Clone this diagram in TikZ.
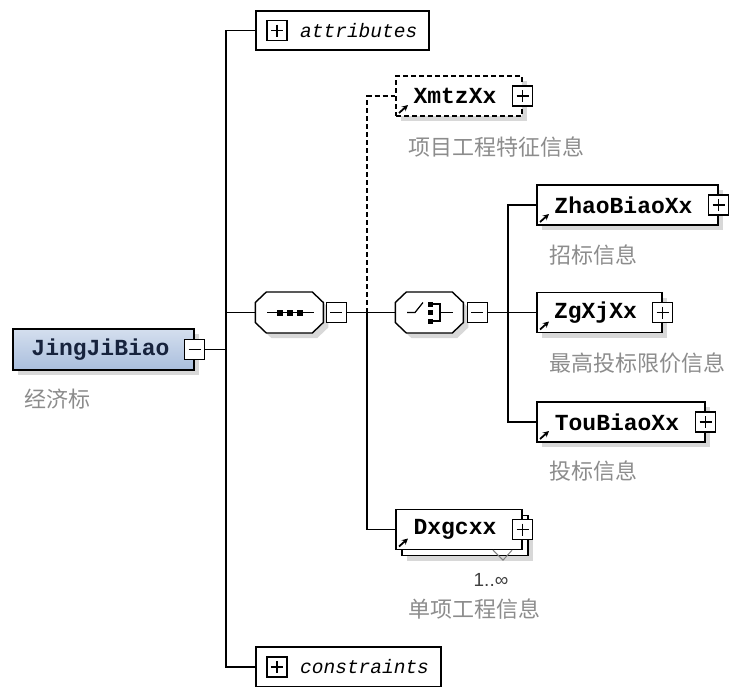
\documentclass[tikz,border=0pt]{standalone}
\usepackage{fontspec}
\newfontfamily\namefont{Liberation Mono}
\newfontfamily\cjkfont{Noto Sans CJK SC}
\newfontfamily\numfont{Liberation Sans}
\usetikzlibrary{shadows,arrows.meta}
\definecolor{lblgrey}{HTML}{8C8C8C}
\definecolor{rootblue}{HTML}{A9BEDD}
\definecolor{rootink}{HTML}{17233D}

\begin{document}
\begin{tikzpicture}[x=1pt, y=-1pt, line width=1.4pt,
		shd/.style={drop shadow={shadow xshift=5pt, shadow yshift=-5pt, fill=black!30}},
		pm/.style={draw, fill=white, minimum width=20, minimum height=20, inner sep=0, line width=1.2pt},
		plus/.style={pm, path picture={\draw ([xshift=4pt]path picture bounding box.west) -- ([xshift=-4pt]path picture bounding box.east); \draw ([yshift=-4pt]path picture bounding box.north) -- ([yshift=4pt]path picture bounding box.south);}},
		minus/.style={pm, path picture={\draw ([xshift=4pt]path picture bounding box.west) -- ([xshift=-4pt]path picture bounding box.east);}},
		elem/.style={draw, fill=white, minimum height=40, inner sep=0, font=\namefont\bfseries\fontsize{23}{23}\selectfont, execute at end node=\hspace*{8pt},
			path picture={\draw[solid, line width=1.8pt, -{Stealth[length=6pt, width=6pt]}] ([shift={(3pt,3pt)}]path picture bounding box.south west) -- ++(9pt,8pt);}},
		grp/.style={draw, fill=white, minimum height=40, inner sep=0},
		grptxt/.style={inner sep=0, anchor=west, font=\namefont\itshape\fontsize{19.5}{20}\selectfont},
		comp/.style={minimum width=68, minimum height=41, inner sep=0},
		lbl/.style={inner sep=0, anchor=west, text=lblgrey, font=\cjkfont\fontsize{22}{22}\selectfont}]
		\useasboundingbox (0,0) rectangle (739,686);
		\node (elemRoot) [draw, shd, minimum width=181, minimum height=41, inner sep=0, top color=rootblue!50, bottom color=rootblue, text=rootink, font=\namefont\bfseries\fontsize{23}{23}\selectfont, execute at end node=\hspace*{6pt}] at (103.5,349.5) {JingJiBiao};
		\node (minusRoot) [minus] at (elemRoot.east) {};
		\node (lblRoot) [lbl] at ([shift={(11,28)}]elemRoot.south west) {经济标};
		\node (attr) [grp, minimum width=173, minimum height=39] at (342.5,30.5) {};
		\node (plusAttr) [plus, anchor=west] at ([xshift=11]attr.west) {};
		\node (txtAttr) [grptxt] at ([xshift=12]plusAttr.east) {attributes};
		\node (cons) [grp, minimum width=185] at (348.5,667) {};
		\node (plusCons) [plus, anchor=west] at ([xshift=11]cons.west) {};
		\node (txtCons) [grptxt] at ([xshift=12]plusCons.east) {constraints};
		\node (seq) [comp] at (290,312.5) {};
		\node (choice) [comp] at (430,312.5) {};
		\foreach \c in {seq,choice}
			\draw[fill=white, shd] (\c.west) ++(0,-10) -- ++(11,-10.5) -- ++(46,0) -- ++(11,10.5) -- ++(0,20) -- ++(-11,10.5) -- ++(-46,0) -- ++(-11,-10.5) -- cycle;
		\node (minusSeq) [minus, anchor=west] at ([xshift=1]seq.east) {};
		\node (minusChoice) [minus, anchor=west] at ([xshift=2]choice.east) {};
		\node (elemXmtz) [elem, shd, dash pattern=on 5pt off 3pt, minimum width=126] at (459,96) {XmtzXx};
		\node (plusXmtz) [plus] at (elemXmtz.east) {};
		\node (lblXmtz) [lbl] at ([shift={(12,30)}]elemXmtz.south west) {项目工程特征信息};
		\node (elemZhao) [elem, shd, minimum width=181] at (627.5,205) {ZhaoBiaoXx};
		\node (plusZhao) [plus] at (elemZhao.east) {};
		\node (lblZhao) [lbl] at ([shift={(12,29)}]elemZhao.south west) {招标信息};
		\node (elemZgXj) [elem, shd, minimum width=125] at (599.5,312.5) {ZgXjXx};
		\node (plusZgXj) [plus] at (elemZgXj.east) {};
		\node (lblZgXj) [lbl] at ([shift={(12,30)}]elemZgXj.south west) {最高投标限价信息};
		\node (elemTou) [elem, shd, minimum width=168] at (621,422) {TouBiaoXx};
		\node (plusTou) [plus] at (elemTou.east) {};
		\node (lblTou) [lbl] at ([shift={(12,28)}]elemTou.south west) {投标信息};
		\node (elemDxgcBack) [draw, fill=white, shd, minimum width=126, minimum height=40] at (465,535.5) {};
		\node (elemDxgc) [elem, minimum width=126] at (459,529.5) {Dxgcxx};
		\node (plusDxgc) [plus] at (elemDxgc.east) {};
		\draw[gray, line width=1pt] ([xshift=34]elemDxgc.south) -- ++(10,10) -- ++(9,-10);
		\node (multDxgc) [inner sep=0, text=black!75, font=\numfont\fontsize{19}{19}\selectfont] at (491,580) {1..∞};
		\node (lblDxgc) [lbl] at ([shift={(12,58.5)}]elemDxgc.south west) {单项工程信息};
		%Verbindungen
		\coordinate (trunkRoot) at (226,349.5);
		\draw (minusRoot.east) -- (trunkRoot);
		\draw (attr.west) -| (trunkRoot) |- (cons.west);
		\draw (trunkRoot |- seq.west) -- (seq.west);
		\coordinate (branchSeq) at (367,312.5);
		\draw (minusSeq.east) -- (choice.west);
		\draw[dash pattern=on 5pt off 3pt] (branchSeq) |- (elemXmtz.west);
		\draw (branchSeq) |- (elemDxgc.west);
		\coordinate (branchChoice) at (508,312.5);
		\draw (minusChoice.east) -- (elemZgXj.west);
		\draw (elemZhao.west) -| (branchChoice) |- (elemTou.west);
		%Symbole
		\draw[line width=1.2pt] ([xshift=-23]seq.center) -- ([xshift=24]seq.center);
		\foreach \dx in {-10,0,10} \fill ([shift={(\dx-3,-3)}]seq.center) rectangle ++(6,6);
		\draw[line width=1.2pt] ([xshift=-23]choice.center) -- ([xshift=-15]choice.center) -- ([shift={(-7,-10)}]choice.center);
		\draw[line width=1.2pt] ([shift={(1,-8.5)}]choice.center) -| ([shift={(10,8.5)}]choice.center) -- ([shift={(1,8.5)}]choice.center);
		\draw[line width=1.2pt] ([xshift=10]choice.center) -- ([xshift=23]choice.center);
		\foreach \dy in {-8.5,0,8.5} \fill ([shift={(-2,\dy-2.5)}]choice.center) rectangle ++(5,5);
	\end{tikzpicture}
\end{document}
